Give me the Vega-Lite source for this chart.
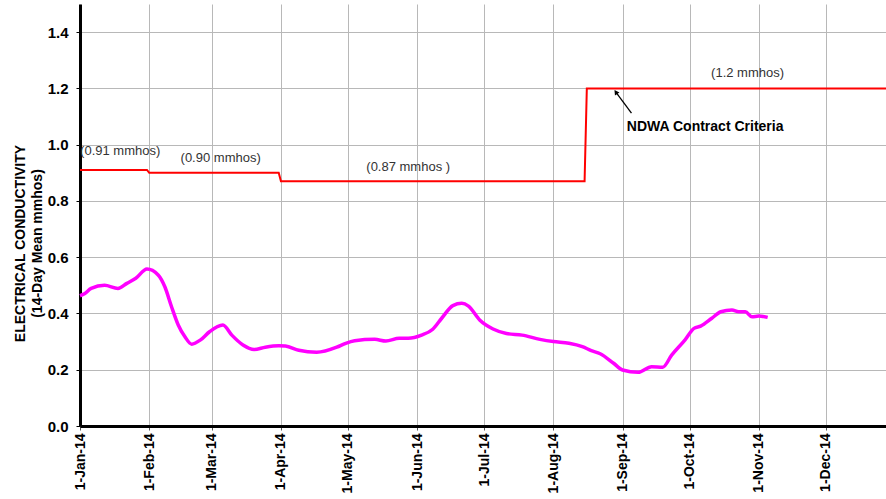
{
  "$schema": "https://vega.github.io/schema/vega-lite/v6.json",
  "width": 806,
  "height": 422,
  "autosize": {"type": "none"},
  "padding": {"left": 80, "top": 4, "right": 0, "bottom": 73},
  "background": "white",
  "config": {
    "view": {"stroke": null},
    "font": "Liberation Sans",
    "axis": {
      "gridColor": "#b8b8b8",
      "gridWidth": 1,
      "domainColor": "black",
      "domainWidth": 3,
      "labelFont": "Liberation Sans",
      "labelFontWeight": "bold",
      "labelFontSize": 14,
      "labelColor": "black",
      "tickColor": "#555555",
      "tickSize": 4,
      "titleFont": "Liberation Sans"
    }
  },
  "datasets": {
    "ec": [
      {"date": "2014-01-01", "value": 0.463},
      {"date": "2014-01-03", "value": 0.47},
      {"date": "2014-01-06", "value": 0.489},
      {"date": "2014-01-12", "value": 0.5},
      {"date": "2014-01-18", "value": 0.489},
      {"date": "2014-01-22", "value": 0.507},
      {"date": "2014-01-26", "value": 0.525},
      {"date": "2014-01-31", "value": 0.558},
      {"date": "2014-02-05", "value": 0.537},
      {"date": "2014-02-08", "value": 0.495},
      {"date": "2014-02-11", "value": 0.424},
      {"date": "2014-02-14", "value": 0.359},
      {"date": "2014-02-17", "value": 0.317},
      {"date": "2014-02-20", "value": 0.291},
      {"date": "2014-02-24", "value": 0.306},
      {"date": "2014-02-28", "value": 0.335},
      {"date": "2014-03-06", "value": 0.359},
      {"date": "2014-03-10", "value": 0.323},
      {"date": "2014-03-15", "value": 0.288},
      {"date": "2014-03-20", "value": 0.272},
      {"date": "2014-03-25", "value": 0.28},
      {"date": "2014-03-31", "value": 0.285},
      {"date": "2014-04-03", "value": 0.284},
      {"date": "2014-04-09", "value": 0.269},
      {"date": "2014-04-17", "value": 0.262},
      {"date": "2014-04-26", "value": 0.28},
      {"date": "2014-04-30", "value": 0.294},
      {"date": "2014-05-04", "value": 0.303},
      {"date": "2014-05-13", "value": 0.308},
      {"date": "2014-05-18", "value": 0.302},
      {"date": "2014-05-24", "value": 0.312},
      {"date": "2014-05-28", "value": 0.312},
      {"date": "2014-06-03", "value": 0.323},
      {"date": "2014-06-08", "value": 0.344},
      {"date": "2014-06-12", "value": 0.383},
      {"date": "2014-06-17", "value": 0.428},
      {"date": "2014-06-21", "value": 0.436},
      {"date": "2014-06-24", "value": 0.426},
      {"date": "2014-06-29", "value": 0.377},
      {"date": "2014-07-05", "value": 0.345},
      {"date": "2014-07-11", "value": 0.329},
      {"date": "2014-07-18", "value": 0.323},
      {"date": "2014-07-26", "value": 0.308},
      {"date": "2014-08-01", "value": 0.3},
      {"date": "2014-08-08", "value": 0.294},
      {"date": "2014-08-14", "value": 0.282},
      {"date": "2014-08-18", "value": 0.268},
      {"date": "2014-08-22", "value": 0.257},
      {"date": "2014-08-28", "value": 0.223},
      {"date": "2014-09-01", "value": 0.199},
      {"date": "2014-09-08", "value": 0.191},
      {"date": "2014-09-14", "value": 0.211},
      {"date": "2014-09-19", "value": 0.209},
      {"date": "2014-09-23", "value": 0.252},
      {"date": "2014-09-29", "value": 0.306},
      {"date": "2014-10-03", "value": 0.347},
      {"date": "2014-10-06", "value": 0.355},
      {"date": "2014-10-11", "value": 0.383},
      {"date": "2014-10-15", "value": 0.406},
      {"date": "2014-10-20", "value": 0.412},
      {"date": "2014-10-23", "value": 0.406},
      {"date": "2014-10-26", "value": 0.406},
      {"date": "2014-10-29", "value": 0.388},
      {"date": "2014-11-01", "value": 0.391},
      {"date": "2014-11-05", "value": 0.386}
    ],
    "criteria": [
      {"date": "2014-01-01", "value": 0.91},
      {"date": "2014-01-31", "value": 0.91},
      {"date": "2014-02-01", "value": 0.9},
      {"date": "2014-03-31", "value": 0.9},
      {"date": "2014-04-01", "value": 0.87},
      {"date": "2014-08-15", "value": 0.87},
      {"date": "2014-08-16", "value": 1.2},
      {"date": "2014-12-28", "value": 1.2}
    ],
    "labels": [
      {"date": "2014-01-19", "value": 0.978, "label": "(0.91 mmhos)"},
      {"date": "2014-03-05", "value": 0.951, "label": "(0.90 mmhos)"},
      {"date": "2014-05-28", "value": 0.921, "label": "(0.87 mmhos )"},
      {"date": "2014-10-27", "value": 1.253, "label": "(1.2 mmhos)"}
    ],
    "callout": [
      {"date": "2014-10-08", "value": 1.064, "label": "NDWA Contract Criteria"}
    ],
    "arrow": [
      {"date": "2014-09-05", "value": 1.112, "date2": "2014-08-29", "value2": 1.187}
    ]
  },
  "layer": [
    {
      "data": {"name": "criteria"},
      "mark": {"type": "line", "color": "#ff0000", "strokeWidth": 2},
      "encoding": {
        "x": {
          "field": "date",
          "type": "temporal",
          "scale": {"type": "utc", "domain": [{"year": 2014, "month": 1, "date": 1, "utc": true}, {"year": 2014, "month": 12, "date": 28, "utc": true}]},
          "axis": {
            "title": null,
            "format": "%-d-%b-%y",
            "labelAngle": -90,
            "labelAlign": "right",
            "labelBaseline": "middle",
            "labelPadding": 3,
            "labelOverlap": false,
            "values": [
              {"year": 2014, "month": 1, "date": 1, "utc": true},
              {"year": 2014, "month": 2, "date": 1, "utc": true},
              {"year": 2014, "month": 3, "date": 1, "utc": true},
              {"year": 2014, "month": 4, "date": 1, "utc": true},
              {"year": 2014, "month": 5, "date": 1, "utc": true},
              {"year": 2014, "month": 6, "date": 1, "utc": true},
              {"year": 2014, "month": 7, "date": 1, "utc": true},
              {"year": 2014, "month": 8, "date": 1, "utc": true},
              {"year": 2014, "month": 9, "date": 1, "utc": true},
              {"year": 2014, "month": 10, "date": 1, "utc": true},
              {"year": 2014, "month": 11, "date": 1, "utc": true},
              {"year": 2014, "month": 12, "date": 1, "utc": true}
            ]
          }
        },
        "y": {
          "field": "value",
          "type": "quantitative",
          "scale": {"domain": [0, 1.5], "nice": false, "zero": true},
          "axis": {
            "title": ["ELECTRICAL CONDUCTIVITY", "(14-Day Mean mmhos)"],
            "titleFontSize": 14,
            "titleFontWeight": "bold",
            "titleColor": "black",
            "titleLineHeight": 17,
            "titleY": 239,
            "titlePadding": 3,
            "format": ".1f",
            "values": [0, 0.2, 0.4, 0.6, 0.8, 1.0, 1.2, 1.4],
            "labelFontSize": 15,
            "labelPadding": 8,
            "tickColor": "black"
          }
        }
      }
    },
    {
      "data": {"name": "ec"},
      "mark": {"type": "line", "color": "#ff00ff", "strokeWidth": 3.5, "interpolate": "monotone"},
      "encoding": {
        "x": {"field": "date", "type": "temporal"},
        "y": {"field": "value", "type": "quantitative"}
      }
    },
    {
      "data": {"name": "labels"},
      "mark": {"type": "text", "fontSize": 13, "color": "#333333", "align": "center", "baseline": "middle"},
      "encoding": {
        "x": {"field": "date", "type": "temporal"},
        "y": {"field": "value", "type": "quantitative"},
        "text": {"field": "label"}
      }
    },
    {
      "data": {"name": "callout"},
      "mark": {"type": "text", "fontSize": 14, "fontWeight": "bold", "color": "black", "align": "center", "baseline": "middle"},
      "encoding": {
        "x": {"field": "date", "type": "temporal"},
        "y": {"field": "value", "type": "quantitative"},
        "text": {"field": "label"}
      }
    },
    {
      "data": {"name": "arrow"},
      "mark": {"type": "rule", "color": "black", "strokeWidth": 1.3},
      "encoding": {
        "x": {"field": "date", "type": "temporal"},
        "x2": {"field": "date2"},
        "y": {"field": "value", "type": "quantitative"},
        "y2": {"field": "value2"}
      }
    },
    {
      "data": {"name": "arrow"},
      "mark": {"type": "point", "shape": "triangle-up", "filled": true, "color": "black", "size": 30, "angle": 325, "opacity": 1},
      "encoding": {
        "x": {"field": "date2", "type": "temporal"},
        "y": {"field": "value2", "type": "quantitative"}
      }
    },
    {
      "mark": {"type": "rule", "color": "black", "strokeWidth": 4},
      "encoding": {"y": {"datum": 1.5}}
    }
  ]
}
